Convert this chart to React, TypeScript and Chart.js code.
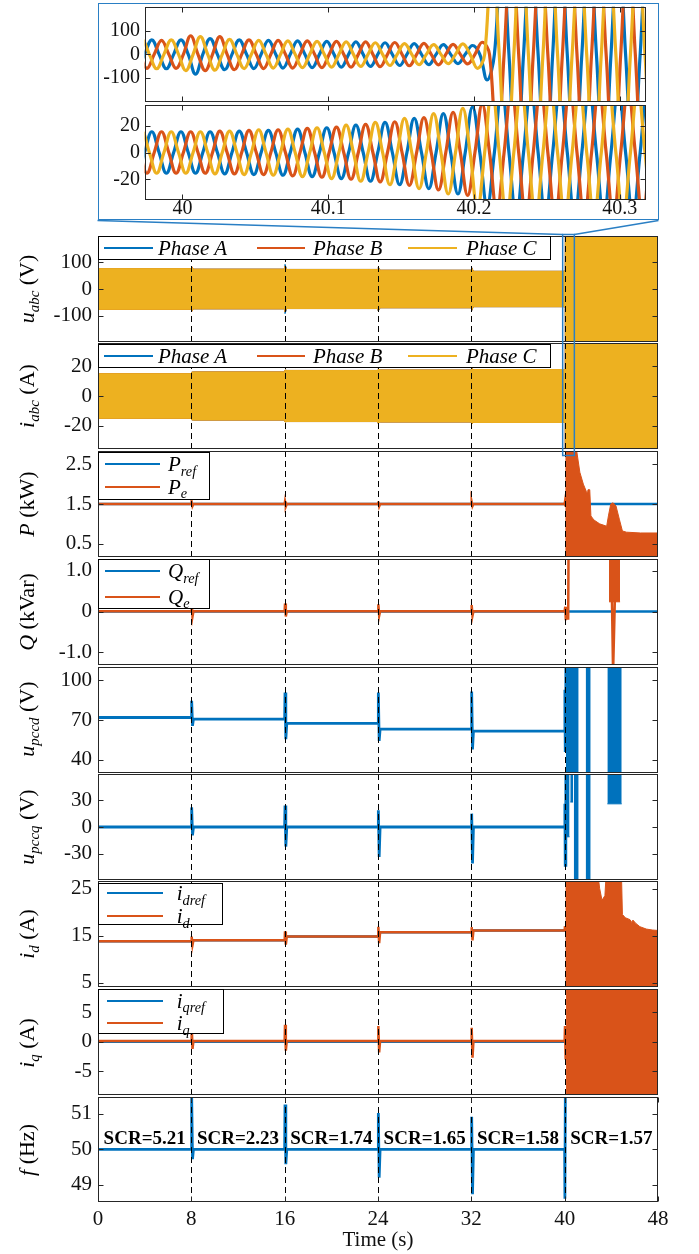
import React, { useEffect, useRef } from 'react';
import { Chart, registerables } from 'chart.js';

Chart.register(...registerables);

const FONT = "'Liberation Serif', 'Times New Roman', serif";
Chart.defaults.font.family = FONT;

const BLUE = '#0072BD';
const RED = '#D95319';
const YELLOW = '#EDB120';
const INK = '#111111';
const FRAME = '#262626';
const ZOOM_BLUE = '#2A7FC4';
const PAGE_W = 699;
const PAGE_H = 1254;

// ---------------- data ----------------
const EVENT_TIMES = [8, 16, 24, 32, 40];
const TIME_TICKS = [0, 8, 16, 24, 32, 40, 48];
const TIME_LABELS = ['0', '8', '16', '24', '32', '40', '48'];
const SCR_TEXT = ['SCR=5.21', 'SCR=2.23', 'SCR=1.74', 'SCR=1.65', 'SCR=1.58', 'SCR=1.57'];
const SCR_AT = [4, 12, 20, 28, 36, 44];
const ZOOM_SPAN = [39.83, 40.83];

// three-phase voltage envelope (peak per SCR segment) and event spikes
const UABC_PEAK = [76, 74, 73, 70, 66];
const UABC_SPIKE_A = [[80], [92], [82], [80]];
const UABC_SPIKE_B = [[84], [86], [80], [80]];
const UABC_SPIKE_C = [[82], [84], [80], [78]];
const UABC_TAIL = [[40.05, 72], [40.12, 1000], [48, 1000]];

const IABC_PEAK = [15, 16.2, 17.2, 17.5, 17.8];
const IABC_SPIKE = [[16], [17.5], [18.5], [18.5]];
const IABC_TAIL = [[40.05, 18], [40.12, 1000], [48, 1000]];

// active power
const PREF_LEVELS = [1.5, 1.5, 1.5, 1.5, 1.5];
const PREF_TAIL = [[48, 1.5]];
const PE_LEVELS = [1.5, 1.5, 1.5, 1.5, 1.5];
const PE_SPIKES = [[1.55, 1.45], [1.56, 1.44], [1.56, 1.44], [1.55, 1.45]];
const PE_TAIL = [[40.03, 1.56], [40.06, 1.44]];
const PE_POST_UPPER = [
  [40.05, 3.2], [40.85, 3.2], [41.3, 2.3], [41.6, 2.0], [41.85, 1.82], [41.95, 1.75],
  [42.0, 1.86], [42.15, 1.86], [42.25, 1.2], [42.5, 1.1], [43.0, 1.0], [43.6, 0.94],
  [43.75, 1.2], [43.95, 1.5], [44.15, 1.53], [44.4, 1.45], [44.7, 1.1], [44.95, 0.82],
  [45.3, 0.79], [46.5, 0.77], [48.0, 0.77],
];

// reactive power
const QREF_LEVELS = [0, 0, 0, 0, 0];
const QREF_TAIL = [[48, 0]];
const QE_LEVELS = [0.01, 0.01, 0.01, 0.01, 0.01];
const QE_SPIKES = [[0.2, -0.12], [0.2, -0.12], [0.18, -0.1], [0.16, -0.1]];
const QE_TAIL = [
  [40.05, 0.12], [40.1, -0.21], [40.2, 0.1], [40.3, -0.2], [40.4, 5], [43.8, 5],
  [44.15, -1.5], [44.22, -1.5], [44.7, 5], [48, 5],
];
const QE_POST_BLOCK = [[43.8, 44.75, 0.24]];

// PCC voltage d / q
const UPCCD_LEVELS = [72, 70.8, 67.5, 63.2, 61.7];
const UPCCD_SPIKES = [[84.5, 65.7], [90.8, 55.7], [90.8, 54.4], [91.5, 48]];
const UPCCD_TAIL = [[40.02, 92.8], [40.05, 47], [40.1, 200], [48, 200]];
const UPCCD_BANDS = [[40.1, 41.2, -1000], [41.8, 42.23, -1000], [43.66, 44.89, -1000]];

const UPCCQ_LEVELS = [0, 0, 0, 0, 0];
const UPCCQ_SPIKES = [[22, -9.4], [24, -22], [18.8, -33.7], [15, -41]];
const UPCCQ_TAIL = [[40.02, 26], [40.05, -43], [40.1, 200], [48, 200]];
const UPCCQ_BANDS = [[40.12, 40.42, -11], [40.48, 40.72, 28], [40.78, 41.2, -1000], [41.8, 42.23, -1000], [43.66, 44.89, 26]];

// currents d / q
const IDREF_LEVELS = [13.8, 14.0, 14.8, 15.7, 16.1];
const IDREF_TAIL = [[40.2, 16.1], [40.25, 3], [48, 3]];
const ID_LEVELS = [13.8, 14.0, 14.8, 15.7, 16.1];
const ID_SPIKES = [[14.8, 13.0], [15.9, 13.1], [16.9, 13.4], [16.8, 14.0]];
const ID_TAIL = [[40.03, 17], [40.06, 16]];
const ID_POST_UPPER = [
  [40.06, 30], [42.75, 30], [43.0, 25], [43.2, 22.5], [43.45, 23.5], [43.6, 30], [44.85, 30],
  [44.95, 19.5], [45.2, 18.8], [45.6, 18.4], [45.75, 17.8], [45.85, 18.3], [46.1, 17.6],
  [46.45, 16.9], [47.0, 16.4], [47.5, 16.2], [48, 16.1],
];

const IQREF_LEVELS = [0, 0, 0, 0, 0];
const IQREF_TAIL = [[48, 0]];
const IQ_LEVELS = [0.15, 0.15, 0.15, 0.15, 0.15];
const IQ_SPIKES = [[2.9, -1.2], [2.9, -1.5], [2.7, -1.8], [2.4, -2.7]];
const IQ_TAIL = [[40.03, 2.7], [40.07, -3], [40.1, 0.15]];
const IQ_POST_UPPER = [[40.12, 1000], [48, 1000]];

// frequency
const F_LEVELS = [50, 50, 50, 50, 50];
const F_SPIKES = [[51.46, 49.72], [51.27, 49.58], [51.03, 49.2], [50.92, 48.73]];
const F_TAIL = [[40.02, 48.6], [40.06, 51.8], [40.12, 60], [48, 60]];

// inset: half-cycle peak values (k = -1 .. 35) of each phase, 50 Hz
const INSET_X = [39.974, 40.318];
const INSET_T0 = 39.974;
const HALF_CYCLE = 0.01;
const INSET_TICKS = [40, 40.1, 40.2, 40.3];
const INSET_TICK_LABELS = ['40', '40.1', '40.2', '40.3'];
const INSET_U_A = [62, 62, 62, 62, 85, 68, 66, 62, 61, 60, 59, 58, 57, 56, 55, 54, 52, 50, 48, 46, 44, 42, 40, 38, 110, 480, 520, 460, 500, 540, 470, 510, 490, 530, 460, 500, 520];
const INSET_U_B = [60, 60, 60, 80, 70, 76, 66, 62, 61, 60, 59, 58, 57, 56, 55, 54, 53, 51, 49, 47, 45, 43, 41, 52, 450, 500, 530, 470, 510, 480, 540, 460, 500, 520, 490, 470, 510];
const INSET_U_C = [62, 62, 62, 62, 70, 76, 68, 64, 61, 60, 59, 58, 57, 56, 55, 54, 52, 50, 48, 46, 44, 42, 40, 45, 60, 500, 470, 540, 480, 520, 500, 460, 530, 490, 510, 480, 500];
const INSET_I_A = [15.5, 15.5, 15.5, 15.5, 15.5, 15.5, 16, 16, 16.5, 16.5, 17, 17.5, 18, 18.5, 19.5, 20.5, 21.5, 22.5, 24, 25.5, 27, 29, 31, 34, 40, 48, 48, 48, 48, 48, 48, 48, 48, 48, 48, 48, 48];
const INSET_I_B = [15.5, 15.5, 15.5, 15.5, 15.5, 16, 16, 16.5, 16.5, 17, 17.5, 18, 18.5, 19, 20, 21, 22, 23, 24.5, 26, 28, 30, 32, 36, 44, 48, 48, 48, 48, 48, 48, 48, 48, 48, 48, 48, 48];
const INSET_I_C = [15.5, 15.5, 15.5, 15.5, 15.5, 15.5, 16, 16, 16.5, 17, 17, 17.5, 18, 18.5, 19.5, 20.5, 21.5, 22.5, 24, 25.5, 27, 29, 31, 33, 42, 48, 48, 48, 48, 48, 48, 48, 48, 48, 48, 48, 48];

const INSET_BOX = { left: 97.5, top: 2.5, width: 561, height: 217.5 };

// ---------------- helpers ----------------
type Pt = { x: number; y: number };
const SPIKE_DT = [0.03, 0.1];

function seriesFrom(levels: number[], spikes: number[][], tail: number[][]): Pt[] {
  const pts: Pt[] = [{ x: 0, y: levels[0] }];
  for (let i = 0; i < 4; i++) {
    const t = EVENT_TIMES[i];
    pts.push({ x: t, y: levels[i] });
    (spikes[i] || []).forEach((v, j) => pts.push({ x: t + SPIKE_DT[j], y: v }));
    pts.push({ x: t + 0.18, y: levels[i + 1] });
  }
  pts.push({ x: 40, y: levels[4] });
  tail.forEach(([x, y]) => pts.push({ x, y }));
  return pts;
}
const neg = (pts: Pt[]) => pts.map((p) => ({ x: p.x, y: -p.y }));
const toPts = (arr: number[][]) => arr.map(([x, y]) => ({ x, y }));

function wave(peaks: number[], shift: number): Pt[] {
  const pts: Pt[] = [];
  peaks.forEach((p, i) => {
    const k = i - 1;
    const z = INSET_T0 + shift + k * HALF_CYCLE;
    const sign = k % 2 === 0 ? 1 : -1;
    pts.push({ x: z, y: 0 }, { x: z + HALF_CYCLE / 2, y: sign * p });
  });
  pts.push({ x: INSET_T0 + shift + (peaks.length - 1) * HALF_CYCLE, y: 0 });
  return pts;
}

const lineDs = (data: Pt[], color: string, width = 2.5): any => ({
  data, borderColor: color, backgroundColor: color, borderWidth: width, pointRadius: 0, tension: 0, fill: false,
});
const fillDs = (data: Pt[], color: string, fill: any): any => ({
  data, borderColor: color, backgroundColor: color, borderWidth: 1, pointRadius: 0, tension: 0, fill,
});
const waveDs = (peaks: number[], shift: number, color: string): any => ({
  ...lineDs(wave(peaks, shift), color, 3.2), tension: 0.4,
});
const bandDs = (bands: number[][], color: string): any[] =>
  bands.map(([x0, x1, yLow]) => fillDs([{ x: x0, y: yLow }, { x: x1, y: yLow }], color, 'end'));
// datasets listed top-most first (Chart.js paints index 0 last)
const phaseBands = (phases: any[][]): any[] => {
  const out: any[] = [];
  phases.forEach(([peaks, spikes, tail, color]) => {
    const up = seriesFrom(peaks, spikes, tail);
    const idx = out.length;
    out.push(fillDs(up, color, false), fillDs(neg(up), color, idx));
  });
  return out;
};

// ---------------- panels ----------------
const MAIN_L = 98;
const MAIN_R = 658;

const drawScr = (chart: any) => {
  const { ctx } = chart;
  const xs = chart.scales.x;
  const ys = chart.scales.y;
  ctx.font = `bold 19px ${FONT}`;
  ctx.fillStyle = '#000';
  ctx.textAlign = 'center';
  ctx.textBaseline = 'alphabetic';
  SCR_AT.forEach((t, i) => ctx.fillText(SCR_TEXT[i], xs.getPixelForValue(t), ys.getPixelForValue(50) - 5));
};

const drawZoom = (chart: any, s: any) => {
  const { ctx } = chart;
  const xs = chart.scales.x;
  const off = s.top - s.padTop;
  const x0 = xs.getPixelForValue(ZOOM_SPAN[0]);
  const x1 = xs.getPixelForValue(ZOOM_SPAN[1]);
  const yTop = 234 - off;
  const yBot = 455 - off;
  ctx.strokeStyle = ZOOM_BLUE;
  ctx.lineWidth = 1.5;
  ctx.strokeRect(x0, yTop, x1 - x0, yBot - yTop);
  ctx.beginPath();
  ctx.moveTo(INSET_BOX.left, INSET_BOX.top + INSET_BOX.height - off);
  ctx.lineTo(x0, yTop);
  ctx.moveTo(INSET_BOX.left + INSET_BOX.width, INSET_BOX.top + INSET_BOX.height - off);
  ctx.lineTo(x1, yTop);
  ctx.stroke();
};

const main = (o: any) => ({
  left: MAIN_L, right: MAIN_R, xMin: 0, xMax: 48, padTop: 20, padBottom: 20, tickFont: 21,
  yTickPad: 6, events: true, z: 1, ...o,
});

const PANELS: any[] = [
  {
    key: 'insetU', top: 6.7, bottom: 101.7, left: 144.5, right: 646, padTop: 6.7, padBottom: 10,
    xMin: INSET_X[0], xMax: INSET_X[1], yMin: -205, yMax: 205, yTicks: [-100, 0, 100],
    yLabels: ['-100', '0', '100'], tickFont: 20, yTickPad: 4.5, xMarks: INSET_TICKS, events: false, z: 1,
    datasets: [
      waveDs(INSET_U_C, -1 / 150, YELLOW),
      waveDs(INSET_U_B, 1 / 150, RED),
      waveDs(INSET_U_A, 0, BLUE),
    ],
  },
  {
    key: 'insetI', top: 105.3, bottom: 200.7, left: 144.5, right: 646, padTop: 10, padBottom: 22,
    xMin: INSET_X[0], xMax: INSET_X[1], yMin: -35.5, yMax: 35.5, yTicks: [-20, 0, 20],
    yLabels: ['-20', '0', '20'], tickFont: 20, yTickPad: 4.5, xMarks: INSET_TICKS, events: false, z: 1,
    xTicks: INSET_TICKS, xLabels: INSET_TICK_LABELS, xAxisH: 22, xTickPad: -1, xLineHeight: 1,
    datasets: [
      waveDs(INSET_I_C, -1 / 150, YELLOW),
      waveDs(INSET_I_B, 1 / 150, RED),
      waveDs(INSET_I_A, 0, BLUE),
    ],
  },
  main({
    key: 'uabc', top: 235.5, bottom: 341.7, padTop: 23, padBottom: 121, z: 3,
    yMin: -198, yMax: 198, yTicks: [-100, 0, 100], yLabels: ['-100', '0', '100'],
    datasets: phaseBands([
      [UABC_PEAK, UABC_SPIKE_C, UABC_TAIL, YELLOW],
      [UABC_PEAK, UABC_SPIKE_B, UABC_TAIL, RED],
      [UABC_PEAK, UABC_SPIKE_A, UABC_TAIL, BLUE],
    ]),
    extra: drawZoom,
  }),
  main({
    key: 'iabc', top: 343, bottom: 449, yMin: -35.7, yMax: 35.7, yTicks: [-20, 0, 20], yLabels: ['-20', '0', '20'],
    datasets: phaseBands([
      [IABC_PEAK, IABC_SPIKE, IABC_TAIL, YELLOW],
      [IABC_PEAK, IABC_SPIKE, IABC_TAIL, RED],
      [IABC_PEAK, IABC_SPIKE, IABC_TAIL, BLUE],
    ]),
  }),
  main({
    key: 'p', top: 451, bottom: 557, yMin: 0.165, yMax: 2.835, yTicks: [0.5, 1.5, 2.5], yLabels: ['0.5', '1.5', '2.5'],
    datasets: [
      fillDs(toPts(PE_POST_UPPER), RED, 'start'),
      lineDs(seriesFrom(PE_LEVELS, PE_SPIKES, PE_TAIL), RED),
      lineDs(seriesFrom(PREF_LEVELS, [[], [], [], []], PREF_TAIL), BLUE),
    ],
  }),
  main({
    key: 'q', top: 559.3, bottom: 665, yMin: -1.31, yMax: 1.29, yTicks: [-1, 0, 1], yLabels: ['-1.0', '0', '1.0'],
    datasets: [
      ...bandDs(QE_POST_BLOCK, RED),
      lineDs(seriesFrom(QE_LEVELS, QE_SPIKES, QE_TAIL), RED),
      lineDs(seriesFrom(QREF_LEVELS, [[], [], [], []], QREF_TAIL), BLUE),
    ],
  }),
  main({
    key: 'upccd', top: 666.5, bottom: 772, yMin: 30.2, yMax: 110, yTicks: [40, 70, 100], yLabels: ['40', '70', '100'],
    datasets: [
      ...bandDs(UPCCD_BANDS, BLUE),
      lineDs(seriesFrom(UPCCD_LEVELS, UPCCD_SPIKES, UPCCD_TAIL), BLUE, 2.8),
    ],
  }),
  main({
    key: 'upccq', top: 774, bottom: 879.5, yMin: -59.5, yMax: 59.5, yTicks: [-30, 0, 30], yLabels: ['-30', '0', '30'],
    datasets: [
      ...bandDs(UPCCQ_BANDS, BLUE),
      lineDs(seriesFrom(UPCCQ_LEVELS, UPCCQ_SPIKES, UPCCQ_TAIL), BLUE, 2.8),
    ],
  }),
  main({
    key: 'id', top: 881, bottom: 987, yMin: 4.1, yMax: 26.6, yTicks: [5, 15, 25], yLabels: ['5', '15', '25'],
    datasets: [
      fillDs(toPts(ID_POST_UPPER), RED, 'start'),
      lineDs(seriesFrom(ID_LEVELS, ID_SPIKES, ID_TAIL), RED),
      lineDs(seriesFrom(IDREF_LEVELS, [[], [], [], []], IDREF_TAIL), BLUE),
    ],
  }),
  main({
    key: 'iq', top: 989.3, bottom: 1095.7, yMin: -9.05, yMax: 9.0, yTicks: [-5, 0, 5], yLabels: ['-5', '0', '5'],
    datasets: [
      fillDs(toPts(IQ_POST_UPPER), RED, 'start'),
      lineDs(seriesFrom(IQ_LEVELS, IQ_SPIKES, IQ_TAIL), RED),
      lineDs(seriesFrom(IQREF_LEVELS, [[], [], [], []], IQREF_TAIL), BLUE),
    ],
  }),
  main({
    key: 'f', top: 1097.3, bottom: 1202.7, padBottom: 51, yMin: 48.51, yMax: 51.48, yTicks: [49, 50, 51],
    yLabels: ['49', '50', '51'], xTicks: TIME_TICKS, xLabels: TIME_LABELS, xAxisH: 51, xTickPad: 4.7,
    xLineHeight: 1.2, xTitle: 'Time (s)', xMarks: TIME_TICKS,
    datasets: [lineDs(seriesFrom(F_LEVELS, F_SPIKES, F_TAIL), BLUE, 2.8)],
    extra: drawScr,
  }),
];

function framePlugin(s: any) {
  return {
    id: 'frame_' + s.key,
    afterDatasetsDraw(chart: any) {
      const { ctx, chartArea: a } = chart;
      const xs = chart.scales.x;
      const ys = chart.scales.y;
      ctx.save();
      if (s.events) {
        ctx.strokeStyle = '#000';
        ctx.lineWidth = 1;
        ctx.setLineDash([6, 4]);
        EVENT_TIMES.forEach((t) => {
          const px = Math.round(xs.getPixelForValue(t)) + 0.5;
          ctx.beginPath();
          ctx.moveTo(px, a.top);
          ctx.lineTo(px, a.bottom);
          ctx.stroke();
        });
        ctx.setLineDash([]);
      }
      ctx.strokeStyle = FRAME;
      ctx.lineWidth = 1;
      const L = Math.round(a.left) + 0.5;
      const R = Math.round(a.right) - 0.5;
      const T = Math.round(a.top) + 0.5;
      const B = Math.round(a.bottom) - 0.5;
      ctx.strokeRect(L, T, R - L, B - T);
      ctx.beginPath();
      s.yTicks.forEach((v: number) => {
        const py = Math.round(ys.getPixelForValue(v)) + 0.5;
        ctx.moveTo(L, py); ctx.lineTo(L + 5, py);
        ctx.moveTo(R, py); ctx.lineTo(R - 5, py);
      });
      (s.xMarks || []).forEach((v: number) => {
        const px = Math.round(xs.getPixelForValue(v)) + 0.5;
        ctx.moveTo(px, B); ctx.lineTo(px, B - 5);
        ctx.moveTo(px, T); ctx.lineTo(px, T + 5);
      });
      ctx.stroke();
      if (s.extra) s.extra(chart, s);
      ctx.restore();
    },
  };
}

function makeChart(canvas: HTMLCanvasElement, s: any) {
  const xAxisH = s.xLabels ? s.xAxisH : 0;
  return new Chart(canvas, {
    type: 'line',
    data: { datasets: s.datasets },
    options: {
      animation: false,
      responsive: false,
      devicePixelRatio: 1,
      events: [],
      layout: { padding: { left: 0, right: PAGE_W - s.right, top: s.padTop, bottom: s.padBottom - xAxisH } },
      plugins: { legend: { display: false }, tooltip: { enabled: false }, title: { display: false } },
      scales: {
        x: {
          type: 'linear',
          min: s.xMin,
          max: s.xMax,
          display: !!s.xLabels,
          grid: { display: false, drawTicks: false },
          border: { display: false },
          ticks: {
            autoSkip: false, maxRotation: 0, minRotation: 0, padding: s.xTickPad || 0, color: INK,
            font: { family: FONT, size: s.tickFont, lineHeight: s.xLineHeight || 1.2 },
            callback: (_v: any, i: number) => (s.xLabels ? s.xLabels[i] : ''),
          },
          afterBuildTicks: (sc: any) => { sc.ticks = (s.xTicks || []).map((v: number) => ({ value: v })); },
          afterFit: (sc: any) => { sc.height = xAxisH; sc.paddingLeft = 0; sc.paddingRight = 0; },
          title: {
            display: !!s.xTitle, text: s.xTitle || '', color: INK,
            font: { family: FONT, size: 21, lineHeight: 1.2 }, padding: { top: 0, bottom: 0 },
          },
        },
        y: {
          type: 'linear',
          position: 'left',
          min: s.yMin,
          max: s.yMax,
          grid: { display: false, drawTicks: false },
          border: { display: false },
          ticks: {
            autoSkip: false, padding: s.yTickPad, color: INK,
            font: { family: FONT, size: s.tickFont },
            callback: (_v: any, i: number) => s.yLabels[i],
          },
          afterBuildTicks: (sc: any) => { sc.ticks = s.yTicks.map((v: number) => ({ value: v })); },
          afterFit: (sc: any) => { sc.width = s.left; sc.paddingTop = 0; sc.paddingBottom = 0; },
        },
      },
    } as any,
    plugins: [framePlugin(s)],
  });
}

// ---------------- text overlays ----------------
const Sub = ({ children }: any) => (
  <span style={{ fontSize: '0.68em', fontStyle: 'italic', position: 'relative', top: '0.32em' }}>{children}</span>
);

const Y_LABELS = [
  { cy: 288.6, node: <><i>u</i><Sub>abc</Sub> (V)</> },
  { cy: 396, node: <><i>i</i><Sub>abc</Sub> (A)</> },
  { cy: 504, node: <><i>P</i> (kW)</> },
  { cy: 612, node: <><i>Q</i> (kVar)</> },
  { cy: 719, node: <><i>u</i><Sub>pccd</Sub> (V)</> },
  { cy: 827, node: <><i>u</i><Sub>pccq</Sub> (V)</> },
  { cy: 934, node: <><i>i</i><Sub>d</Sub> (A)</> },
  { cy: 1042.5, node: <><i>i</i><Sub>q</Sub> (A)</> },
  { cy: 1150, node: <><i>f</i> (Hz)</> },
];

const LEGENDS = [
  {
    box: [98, 235.5, 453, 24.5],
    items: [
      { x0: 104, x1: 153, y: 248, color: BLUE, tx: 158, label: <i>Phase A</i> },
      { x0: 257, x1: 305, y: 248, color: RED, tx: 313, label: <i>Phase B</i> },
      { x0: 408, x1: 457, y: 248, color: YELLOW, tx: 466, label: <i>Phase C</i> },
    ],
  },
  {
    box: [98, 343.5, 453, 24.5],
    items: [
      { x0: 104, x1: 153, y: 355.5, color: BLUE, tx: 158, label: <i>Phase A</i> },
      { x0: 257, x1: 305, y: 355.5, color: RED, tx: 313, label: <i>Phase B</i> },
      { x0: 408, x1: 457, y: 355.5, color: YELLOW, tx: 466, label: <i>Phase C</i> },
    ],
  },
  {
    box: [98, 451.5, 112, 48.5],
    items: [
      { x0: 105, x1: 160, y: 464.3, color: BLUE, tx: 168, label: <><i>P</i><Sub>ref</Sub></> },
      { x0: 105, x1: 160, y: 486.7, color: RED, tx: 168, label: <><i>P</i><Sub>e</Sub></> },
    ],
  },
  {
    box: [98, 559.3, 112, 49.7],
    items: [
      { x0: 105, x1: 160, y: 571, color: BLUE, tx: 168, label: <><i>Q</i><Sub>ref</Sub></> },
      { x0: 105, x1: 160, y: 596.7, color: RED, tx: 168, label: <><i>Q</i><Sub>e</Sub></> },
    ],
  },
  {
    box: [98, 882.7, 125, 42.3],
    items: [
      { x0: 106.7, x1: 162.7, y: 893.3, color: BLUE, tx: 176.7, label: <><i>i</i><Sub>dref</Sub></> },
      { x0: 106.7, x1: 162.7, y: 916, color: RED, tx: 176.7, label: <><i>i</i><Sub>d</Sub></> },
    ],
  },
  {
    box: [98, 989.3, 126, 44.7],
    items: [
      { x0: 106.7, x1: 162.7, y: 1000.7, color: BLUE, tx: 176.7, label: <><i>i</i><Sub>qref</Sub></> },
      { x0: 106.7, x1: 162.7, y: 1023.3, color: RED, tx: 176.7, label: <><i>i</i><Sub>q</Sub></> },
    ],
  },
];

export default function App() {
  const refs = useRef<(HTMLCanvasElement | null)[]>([]);

  useEffect(() => {
    const charts = PANELS.map((p, i) => makeChart(refs.current[i] as HTMLCanvasElement, p));
    return () => charts.forEach((c) => c.destroy());
  }, []);

  return (
    <div
      style={{
        position: 'absolute', left: 0, top: 0, width: PAGE_W, height: PAGE_H, overflow: 'hidden',
        background: '#fff', fontFamily: FONT, color: '#000',
      }}
    >
      <div
        style={{
          position: 'absolute', left: INSET_BOX.left, top: INSET_BOX.top, width: INSET_BOX.width,
          height: INSET_BOX.height, border: `1.5px solid ${ZOOM_BLUE}`, boxSizing: 'border-box',
          background: '#fff', zIndex: 0,
        }}
      />
      {PANELS.map((p, i) => {
        const h = Math.round(p.bottom - p.top + p.padTop + p.padBottom);
        return (
          <canvas
            key={p.key}
            ref={(el) => { refs.current[i] = el; }}
            width={PAGE_W}
            height={h}
            style={{ position: 'absolute', left: 0, top: p.top - p.padTop, width: PAGE_W, height: h, zIndex: p.z }}
          />
        );
      })}
      {Y_LABELS.map((l, i) => (
        <div
          key={'yl' + i}
          style={{
            position: 'absolute', left: 27, top: l.cy, transform: 'translate(-50%, -50%) rotate(-90deg)',
            fontSize: 22, lineHeight: 1, whiteSpace: 'nowrap', zIndex: 4,
          }}
        >
          {l.node}
        </div>
      ))}
      {LEGENDS.map((lg, i) => (
        <React.Fragment key={'lg' + i}>
          <div
            style={{
              position: 'absolute', left: lg.box[0], top: lg.box[1], width: lg.box[2], height: lg.box[3],
              border: '1px solid #000', boxSizing: 'border-box', background: '#fff', zIndex: 4,
            }}
          />
          {lg.items.map((it, j) => (
            <React.Fragment key={'li' + j}>
              <div
                style={{
                  position: 'absolute', left: it.x0, top: it.y - 1, width: it.x1 - it.x0, height: 2,
                  background: it.color, zIndex: 5,
                }}
              />
              <div
                style={{
                  position: 'absolute', left: it.tx, top: it.y, transform: 'translateY(-50%)', fontSize: 21,
                  lineHeight: 1, whiteSpace: 'nowrap', zIndex: 5,
                }}
              >
                {it.label}
              </div>
            </React.Fragment>
          ))}
        </React.Fragment>
      ))}
    </div>
  );
}
